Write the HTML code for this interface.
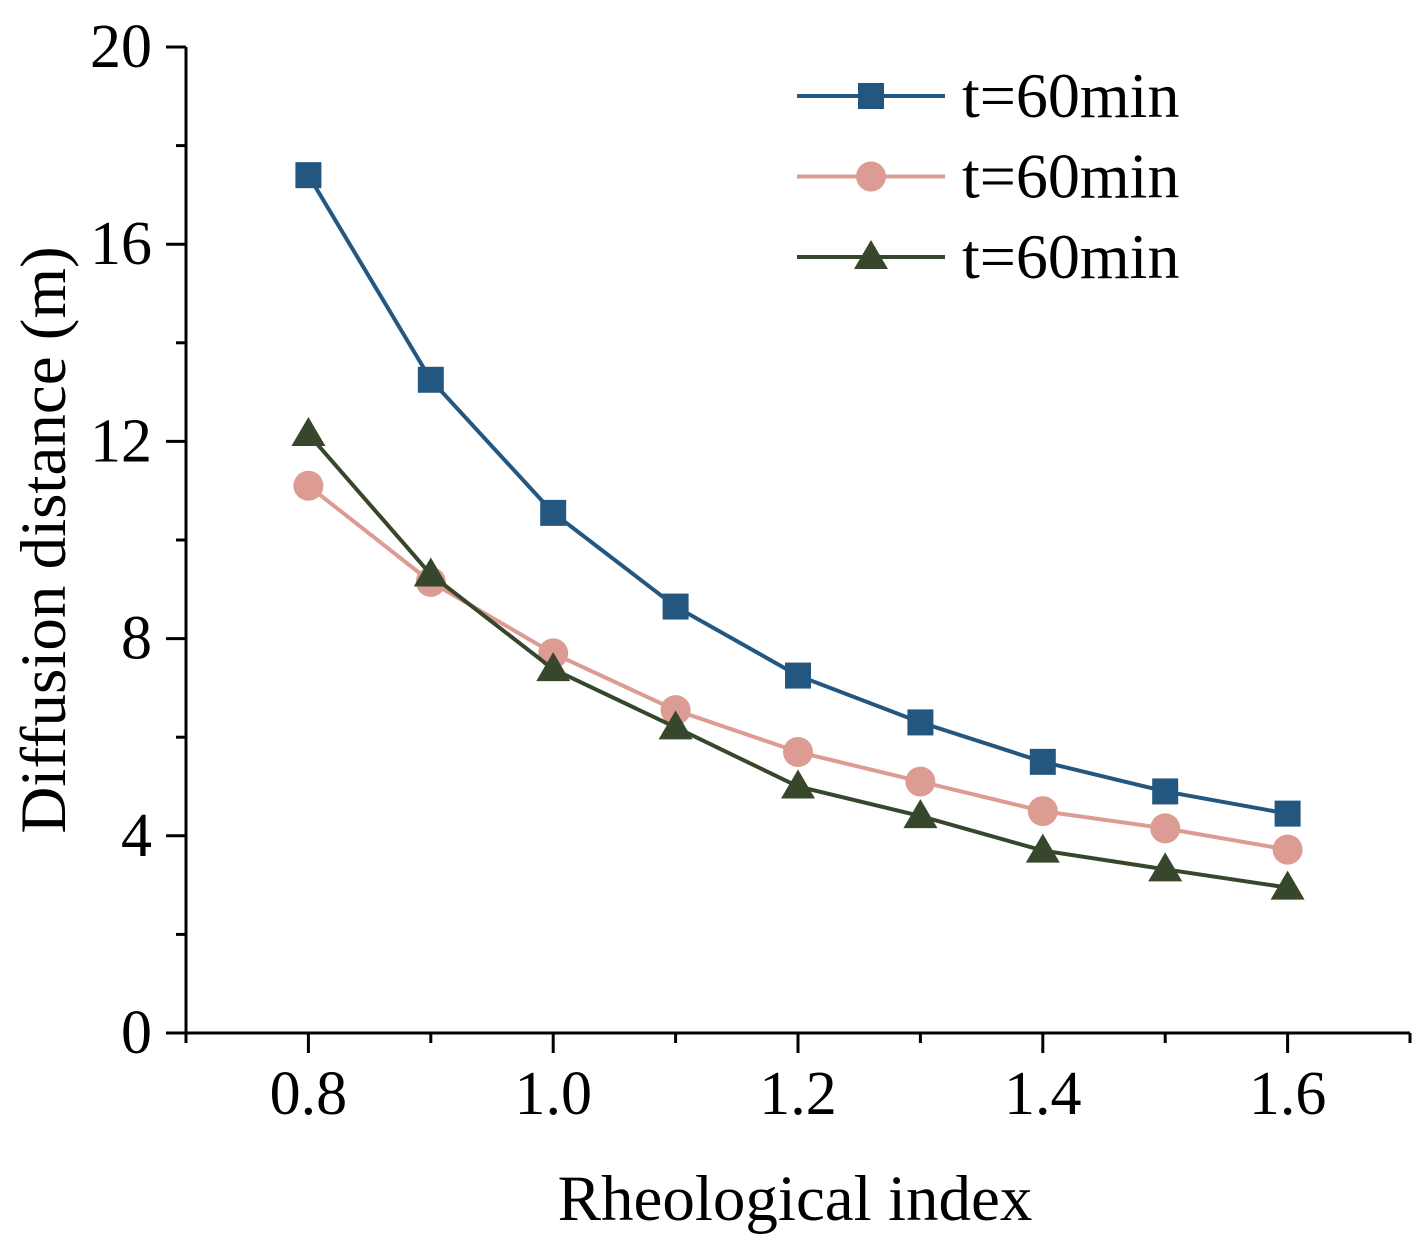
<!DOCTYPE html>
<html><head><meta charset="utf-8"><style>
body{margin:0;background:#fff}
svg text{font-family:"Liberation Serif",serif;fill:#000}
</style></head><body>
<svg id="chart" width="1424" height="1252" xmlns="http://www.w3.org/2000/svg"></svg>
<script>
const categories=[0.8,0.9,1.0,1.1,1.2,1.3,1.4,1.5,1.6];
const seriesSquare=[17.4,13.25,10.55,8.65,7.25,6.3,5.5,4.9,4.45];
const seriesCircle=[11.1,9.15,7.7,6.55,5.7,5.1,4.5,4.15,3.72];
const seriesTriangle=[12.15,9.3,7.38,6.2,5.0,4.4,3.7,3.32,2.95];
const xTickLabels=["0.8","1.0","1.2","1.4","1.6"];
const yTickLabels=["0","4","8","12","16","20"];
const legendLabels=["t=60min","t=60min","t=60min"];

const NS="http://www.w3.org/2000/svg";
const svg=document.getElementById('chart');
const X0=186,X1=1410,Y0=1033,Y1=47;
const xs=v=>X0+(v-0.7)/(1.7-0.7)*(X1-X0);
const ys=v=>Y0-v/20*(Y0-Y1);
function mk(tag,attrs,parent){const e=document.createElementNS(NS,tag);for(const k in attrs)e.setAttribute(k,attrs[k]);(parent||svg).appendChild(e);return e;}

const axes=mk('g',{});


const xa=mk('line',{x1:166,y1:Y0,x2:X1,y2:Y0,stroke:'#000','stroke-width':3},axes);


const ya=mk('line',{x1:X0,y1:Y1,x2:X0,y2:Y0+8,stroke:'#000','stroke-width':3},axes);


for(let i=0;i<=10;i++){const v=0.7+i*0.1;const x=xs(v);const major=Math.abs(Math.round(v*10)%2)===0;
 const t=mk('line',{x1:x,y1:Y0,x2:x,y2:Y0+(major?20:10),stroke:'#000','stroke-width':3},axes);
 
 }
xTickLabels.forEach(l=>{const t=mk('text',{x:xs(parseFloat(l)),y:1114,'font-size':62,'text-anchor':'middle'},axes);t.textContent=l;
 
 });
for(let v=0;v<=20;v+=2){const y=ys(v);const major=v%4===0;
 const t=mk('line',{x1:X0-(major?20:10),y1:y,x2:X0,y2:y,stroke:'#000','stroke-width':3},axes);
 
 }
yTickLabels.forEach(l=>{const t=mk('text',{x:152,y:ys(parseFloat(l))+20,'font-size':62,'text-anchor':'end'},axes);t.textContent=l;
 
 });
const xt=mk('text',{x:795,y:1220,'font-size':65,'text-anchor':'middle'});xt.textContent='Rheological index';


const yt=mk('text',{x:0,y:0,'font-size':65,'text-anchor':'middle',transform:'translate(65,540) rotate(-90)'});yt.textContent='Diffusion distance (m)';



function marker(type,x,y,color,g){
 if(type==='sq')return mk('rect',{x:x-13,y:y-13,width:26,height:26,fill:color},g);
 if(type==='ci')return mk('circle',{cx:x,cy:y,r:15,fill:color},g);
 return mk('polygon',{points:`${x},${y-17} ${x-17},${y+12} ${x+17},${y+12}`,fill:color},g);
}
const defs=[[seriesSquare,'#245780','sq','series-square'],[seriesCircle,'#dc9b93','ci','series-circle'],[seriesTriangle,'#36472c','tr','series-triangle']];
defs.forEach(([data,color,type,name],si)=>{
 const g=mk('g',{});
 
 
 const pts=data.map((v,i)=>xs(categories[i])+','+ys(v)).join(' ');
 const pl=mk('polyline',{points:pts,fill:'none',stroke:color,'stroke-width':4},g);
 
 
 data.forEach((v,i)=>{const m=marker(type,xs(categories[i]),ys(v),color,g);
  
  });
 const ly=96+si*80.5;
 const lg=mk('g',{});
 
 
 mk('line',{x1:797,y1:ly,x2:945,y2:ly,stroke:color,'stroke-width':4},lg);
 marker(type,871,ly,color,lg);
 const tx=mk('text',{x:962,y:ly+21,'font-size':64},lg);tx.textContent=legendLabels[si];
});
</script>
</body></html>
